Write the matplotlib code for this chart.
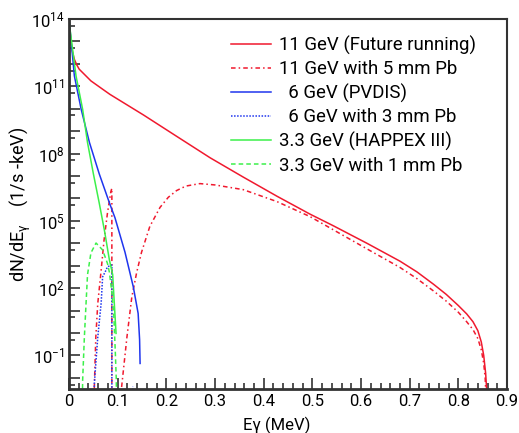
import numpy as np
import matplotlib.pyplot as plt
from matplotlib.ticker import FixedLocator, FuncFormatter, MultipleLocator

plt.rcParams['font.family'] = ['Roboto', 'DejaVu Sans']
plt.rcParams['mathtext.default'] = 'regular'

# photon energy (MeV) and log10(dN/dE)
x_11 = [0, 0.002, 0.004, 0.007, 0.011, 0.016, 0.021, 0.045, 0.069, 0.084, 0.117,
        0.153, 0.221, 0.290, 0.358, 0.427, 0.495, 0.543, 0.612, 0.680, 0.715,
        0.749, 0.775, 0.800, 0.817, 0.830, 0.840, 0.847, 0.852, 0.856, 0.858, 0.86]
y_11 = [14, 13.45, 13.0, 12.55, 12.2, 11.95, 11.76, 11.24, 10.87, 10.64, 10.2,
        9.72, 8.77, 7.81, 6.95, 6.1, 5.3, 4.78, 4.0, 3.2, 2.72,
        2.17, 1.72, 1.22, 0.85, 0.5, 0.1, -0.4, -1.0, -1.8, -2.5, -3.5]

x_11pb = [0.051, 0.052, 0.055, 0.059, 0.066, 0.072, 0.079, 0.086, 0.088, 0.088, np.nan,
          0.106, 0.108, 0.119, 0.129, 0.139, 0.149, 0.166, 0.187, 0.204, 0.221,
          0.240, 0.269, 0.300, 0.358, 0.427, 0.495, 0.543, 0.612, 0.680, 0.715,
          0.749, 0.775, 0.800, 0.817, 0.830, 0.840, 0.847, 0.852, 0.855, 0.858]
y_11pb = [-3, -2.4, -0.2, 1.3, 2.8, 4.15, 5.35, 6.31, 6.45, -3.5, np.nan,
          -3.5, -2.42, -0.18, 1.6, 2.7, 3.6, 4.75, 5.6, 6.05, 6.35,
          6.55, 6.66, 6.6, 6.39, 5.86, 5.19, 4.6, 3.75, 2.92, 2.42,
          1.87, 1.42, 0.92, 0.5, 0.15, -0.25, -0.75, -1.35, -2.0, -3.5]

x_6 = [0, 0.002, 0.011, 0.025, 0.042, 0.062, 0.083, 0.0945, 0.115, 0.132, 0.142, 0.145, 0.146]
y_6 = [14, 13.55, 11.46, 9.97, 8.49, 7.1, 5.8, 5.13, 3.6, 2.06, 0.87, -0.3, -1.36]

x_6pb = [0.051, 0.052, 0.059, 0.066, 0.069, 0.076, 0.079, 0.088, 0.088, np.nan, 0.128, 0.131]
y_6pb = [-3.5, -2.26, -0.2, 1.33, 2.5, 2.8, 2.95, 3.03, -3.5, np.nan, -3.5, -2.4]

x_33 = [0, 0.002, 0.0144, 0.028, 0.038, 0.050, 0.062, 0.0725, 0.083, 0.0897, 0.093, 0.0966]
y_33 = [14, 13.55, 11.46, 9.97, 8.49, 7.1, 5.8, 4.6, 3.25, 2.6, 1.33, -0.02]

x_33pb = [0.027, 0.028, 0.0315, 0.035, 0.038, 0.045, 0.0555, 0.069, 0.079, 0.083,
          0.088, 0.092, 0.095, 0.097, 0.098]
y_33pb = [-3.5, -2.1, -0.2, 1.33, 2.6, 3.57, 4.01, 3.7, 3.1, 2.7,
          1.8, 0.8, -0.8, -2.0, -3.5]

labels = ['11 GeV (Future running)', '11 GeV with 5 mm Pb', '  6 GeV (PVDIS)',
          '  6 GeV with 3 mm Pb', '3.3 GeV (HAPPEX III)', '3.3 GeV with 1 mm Pb']

red = '#f0192e'
blue = '#1f35ee'
green = '#3cf04a'

fig = plt.figure(figsize=(5.19, 4.33), dpi=100)
ax = fig.add_axes([0.133, 0.1016, 0.844, 0.8545])

ax.plot(x_11, 10.0**np.array(y_11), color=red, lw=1.1, label=labels[0])
ax.plot(x_11pb, 10.0**np.array(y_11pb), color=red, lw=1.1, ls=(0, (3, 2, 1, 2)), label=labels[1])
ax.plot(x_6, 10.0**np.array(y_6), color=blue, lw=1.1, label=labels[2])
ax.plot(x_6pb, 10.0**np.array(y_6pb), color=blue, lw=1.1, ls=(0, (1, 1)), label=labels[3])
ax.plot(x_33, 10.0**np.array(y_33), color=green, lw=1.1, label=labels[4])
ax.plot(x_33pb, 10.0**np.array(y_33pb), color=green, lw=1.1, ls=(0, (3, 2)), label=labels[5])

ax.set_yscale('log')
ax.set_xlim(0, 0.9)
ax.set_ylim(10**-2.5, 1e14)

ax.xaxis.set_major_locator(MultipleLocator(0.1))
ax.xaxis.set_minor_locator(MultipleLocator(0.02))
ax.xaxis.set_major_formatter(FuncFormatter(lambda v, p: '0' if abs(v) < 1e-9 else '%.1f' % v))

ax.yaxis.set_major_locator(FixedLocator(10.0**np.arange(-2, 15)))
ax.yaxis.set_minor_locator(FixedLocator(5 * 10.0**np.arange(-3, 14)))
labeled = [14, 11, 8, 5, 2, -1]
def yfmt(v, p):
    e = int(round(np.log10(v)))
    return r'$10^{%d}$' % e if e in labeled else ''
ax.yaxis.set_major_formatter(FuncFormatter(yfmt))
ax.yaxis.set_minor_formatter(FuncFormatter(lambda v, p: ''))

ax.tick_params(which='both', direction='in', top=False, right=False, labelsize=12, width=1.2, color='#333333')
ax.tick_params(which='major', length=8)
ax.tick_params(which='minor', length=4)
ax.tick_params(axis='x', pad=3.5)
ax.tick_params(axis='y', pad=3)
for s in ['left', 'bottom']:
    ax.spines[s].set_linewidth(2)
    ax.spines[s].set_color('#333333')
for s in ['top', 'right']:
    ax.spines[s].set_linewidth(1.5)
    ax.spines[s].set_color('#333333')

ax.set_xlabel('Eγ (MeV)', fontsize=12)
ax.xaxis.set_label_coords(0.475, -0.075)
ax.set_ylabel('dN/dE$_{γ}$    (1/s -keV)', fontsize=13)
ax.yaxis.set_label_coords(-0.082, 0.5)

ax.legend(loc='upper left', bbox_to_anchor=(0.353, 0.976), frameon=False, fontsize=13.4,
          handlelength=2.15, handletextpad=0.43, labelspacing=0.3, borderaxespad=0)

fig.savefig('out.png', dpi=100)
